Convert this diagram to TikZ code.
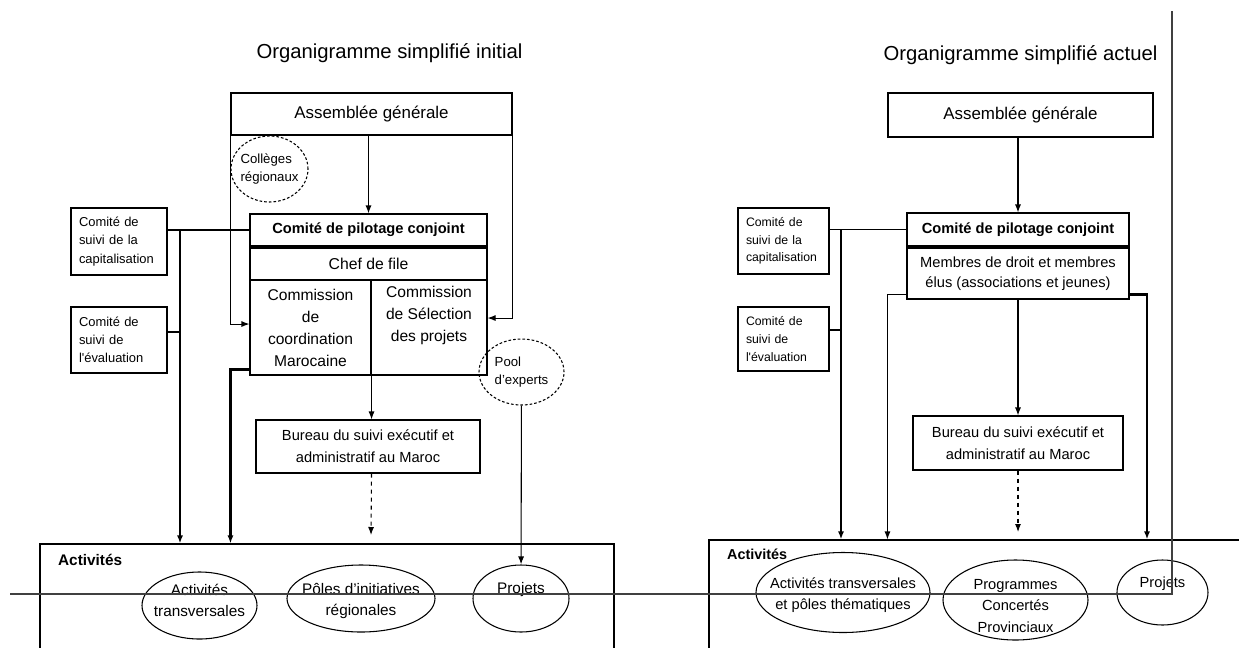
\documentclass[tikz,border=0pt]{standalone}
\usepackage{fontspec}
\setmainfont{Liberation Sans}
\usepackage{tikz}
\usetikzlibrary{arrows.meta,shapes.geometric}
\newcommand{\taille}[2]{\fontsize{#1}{#2}\selectfont}
\tikzset{
  cadre/.style={draw,line width=0.8pt,inner sep=0pt,align=center},
  petit/.style={draw,line width=0.8pt,align=left,inner xsep=6pt,inner ysep=0pt},
  bulle/.style={ellipse,draw,line width=0.8pt,dash pattern=on 2pt off 1.5pt,inner sep=0pt},
  ovale/.style={ellipse,draw,line width=0.8pt,inner sep=0pt},
  lien/.style={line width=0.8pt,-{Latex[length=6pt,width=4.5pt]}},
  trait/.style={line width=0.8pt},
  gros/.style={line width=1.6pt,-{Latex[length=6pt,width=4.5pt]}}
}
\begin{document}
\begin{tikzpicture}[x=0.75pt,y=-0.75pt]
                      \useasboundingbox (0,0) rectangle (1239,647);
                      \node[font=\taille{15.2}{18}] (titreA) at (389.5,53) {Organigramme simplifié initial};
                      \node[cadre,minimum width=210.75pt,minimum height=31.5pt,font=\taille{12.7}{15}] (agA) at (371.5,114) {Assemblée générale};
                      \node[bulle,minimum width=57.75pt,minimum height=49.5pt,label={[align=left,font=\taille{9.9}{13.75}]center:Collèges\\régionaux}] (collA) at (269.5,169) {};
                      \node[cadre,minimum width=177.75pt,minimum height=24pt,font=\bfseries\taille{11}{13}] (pilA) at (368.5,230) {Comité de pilotage conjoint};
                      \node[cadre,minimum width=177.75pt,minimum height=24pt,font=\taille{11.8}{14}] (chefA) at (368.5,264) {Chef de file};
                      \node[cadre,minimum width=90.75pt,minimum height=71.25pt,font=\taille{11.7}{16.5}] (comA) at (310.5,327.5) {Commission\\de\\coordination\\Marocaine};
                      \node[cadre,minimum width=87pt,minimum height=71.25pt,label={[align=center,font=\taille{11.7}{16.5},anchor=north,yshift=-1.5pt]north:Commission\\de Sélection\\des projets}] (selA) at (429,327.5) {};
                      \node[petit,text width=60pt,minimum height=50.25pt,font=\taille{9.7}{13.7}] (capA) at (119,241.5) {Comité de\\suivi de la\\capitalisation};
                      \node[petit,text width=60pt,minimum height=49.5pt,font=\taille{9.7}{13.7}] (evalA) at (119,340) {Comité de\\suivi de\\l\textquotesingle évaluation};
                      \node[bulle,minimum width=63.75pt,minimum height=49.5pt,label={[align=left,font=\taille{9.9}{13.75}]center:Pool\\d’experts}] (poolA) at (521.5,372) {};
                      \node[cadre,minimum width=168pt,minimum height=39.75pt,font=\taille{11}{16.3}] (burA) at (368,446.5) {Bureau du suivi exécutif et\\administratif au Maroc};
                      \node[draw,line width=0.8pt,minimum width=430.5pt,minimum height=87pt,label={[anchor=west,font=\bfseries\taille{11.5}{14},xshift=10.5pt,yshift=-12pt]north west:Activités}] (actA) at (327,602) {};
                      \node[ovale,minimum width=86.25pt,minimum height=50.25pt,label={[align=center,font=\taille{11.5}{15.75},yshift=3.75pt]center:Activités\\transversales}] (transA) at (199.5,605.5) {};
                      \node[ovale,minimum width=111pt,minimum height=50.25pt,label={[align=center,font=\taille{11.5}{15.75},yshift=-1.5pt]center:Pôles d’initiatives\\régionales}] (polesA) at (361,598.5) {};
                      \node[ovale,minimum width=72pt,minimum height=50.25pt,label={[font=\taille{11.5}{14},yshift=6.4pt]center:Projets}] (projA) at (521,598.5) {};
                      \coordinate (busA) at (180,230);
                      \coordinate (finA) at (371,535);
                      \draw[lien] (agA.south -| pilA) -- (pilA.north);
                      \draw[lien] (agA.south west) |- ([yshift=2.6pt]comA.west);
                      \draw[lien] (agA.south east) |- ([yshift=7.1pt]selA.east);
                      \draw[trait] (capA.east |- pilA.west) -- (pilA.west);
                      \draw[gros] (busA) -- (busA |- actA.north);
                      \draw[trait] ([yshift=6pt]evalA.east) -- ([yshift=6pt]evalA.east -| busA);
                      \draw[gros] ([yshift=4.5pt]comA.south west) -| (agA.west |- actA.north);
                      \draw[lien] (comA.south east) -- (comA.south east |- burA.north);
                      \draw[lien,dashed] (comA.south east |- burA.south) -- (finA);
                      \draw[lien] (poolA) -- (projA);
                      \node[font=\taille{15.2}{18}] (titreB) at (1020.5,55) {Organigramme simplifié actuel};
                      \node[cadre,minimum width=198.75pt,minimum height=33pt,font=\taille{12.7}{15}] (agB) at (1020.5,115) {Assemblée générale};
                      \node[cadre,minimum width=166.5pt,minimum height=24.75pt,font=\bfseries\taille{11}{13}] (pilB) at (1018,229.5) {Comité de pilotage conjoint};
                      \node[cadre,minimum width=166.5pt,minimum height=38.25pt,font=\taille{11}{15}] (membB) at (1018,273.5) {Membres de droit et membres\\élus (associations et jeunes)};
                      \node[petit,text width=56.25pt,minimum height=49.5pt,font=\taille{9.2}{13.2}] (capB) at (783.5,241) {Comité de\\suivi de la\\capitalisation};
                      \node[petit,text width=56.25pt,minimum height=48pt,font=\taille{9.2}{13.2}] (evalB) at (783.5,339) {Comité de\\suivi de\\l\textquotesingle évaluation};
                      \node[cadre,minimum width=157.5pt,minimum height=40.5pt,font=\taille{11}{16}] (burB) at (1018,443) {Bureau du suivi exécutif et\\administratif au Maroc};
                      \node[draw,line width=0.8pt,minimum width=421.5pt,minimum height=97.5pt,label={[anchor=west,font=\bfseries\taille{10.8}{13},xshift=10.5pt,yshift=-11.25pt]north west:Activités}] (actB) at (990,605) {};
                      \node[ovale,minimum width=130.5pt,minimum height=60pt,label={[align=center,font=\taille{11}{16},yshift=-1.9pt]center:Activités transversales\\et pôles thématiques}] (transB) at (843,592.5) {};
                      \node[ovale,minimum width=108.75pt,minimum height=60pt,label={[align=center,font=\taille{11}{16},yshift=-4.5pt]center:Programmes\\Concertés\\Provinciaux}] (progB) at (1015.5,600) {};
                      \node[ovale,minimum width=68.25pt,minimum height=48.75pt,label={[font=\taille{11}{14},yshift=6.4pt]center:Projets}] (projB) at (1162.5,592.5) {};
                      \coordinate (busB) at (841,230);
                      \coordinate (droitB) at (1147,294);
                      \coordinate (finB) at (1018,532);
                      \draw[lien] (agB.south -| pilB) -- (pilB.north);
                      \draw[trait] (capB.east |- pilB.west) -- (pilB.west);
                      \draw[gros] (busB) -- (busB |- actB.north);
                      \draw[trait] ([yshift=6.75pt]evalB.east) -- ([yshift=6.75pt]evalB.east -| busB);
                      \draw[lien] ([yshift=3.75pt]membB.south west) -| (agB.west |- actB.north);
                      \draw[gros] ([yshift=3.75pt]membB.south east) -| (droitB |- actB.north);
                      \draw[lien] (membB.south -| burB) -- (burB.north);
                      \draw[lien,dashed] (burB.south) -- (finB);
                      \draw[line width=0.8pt,black!75] (10,594) -- (1172,594) -- (1172,11);
                  \end{tikzpicture}
\end{document}
